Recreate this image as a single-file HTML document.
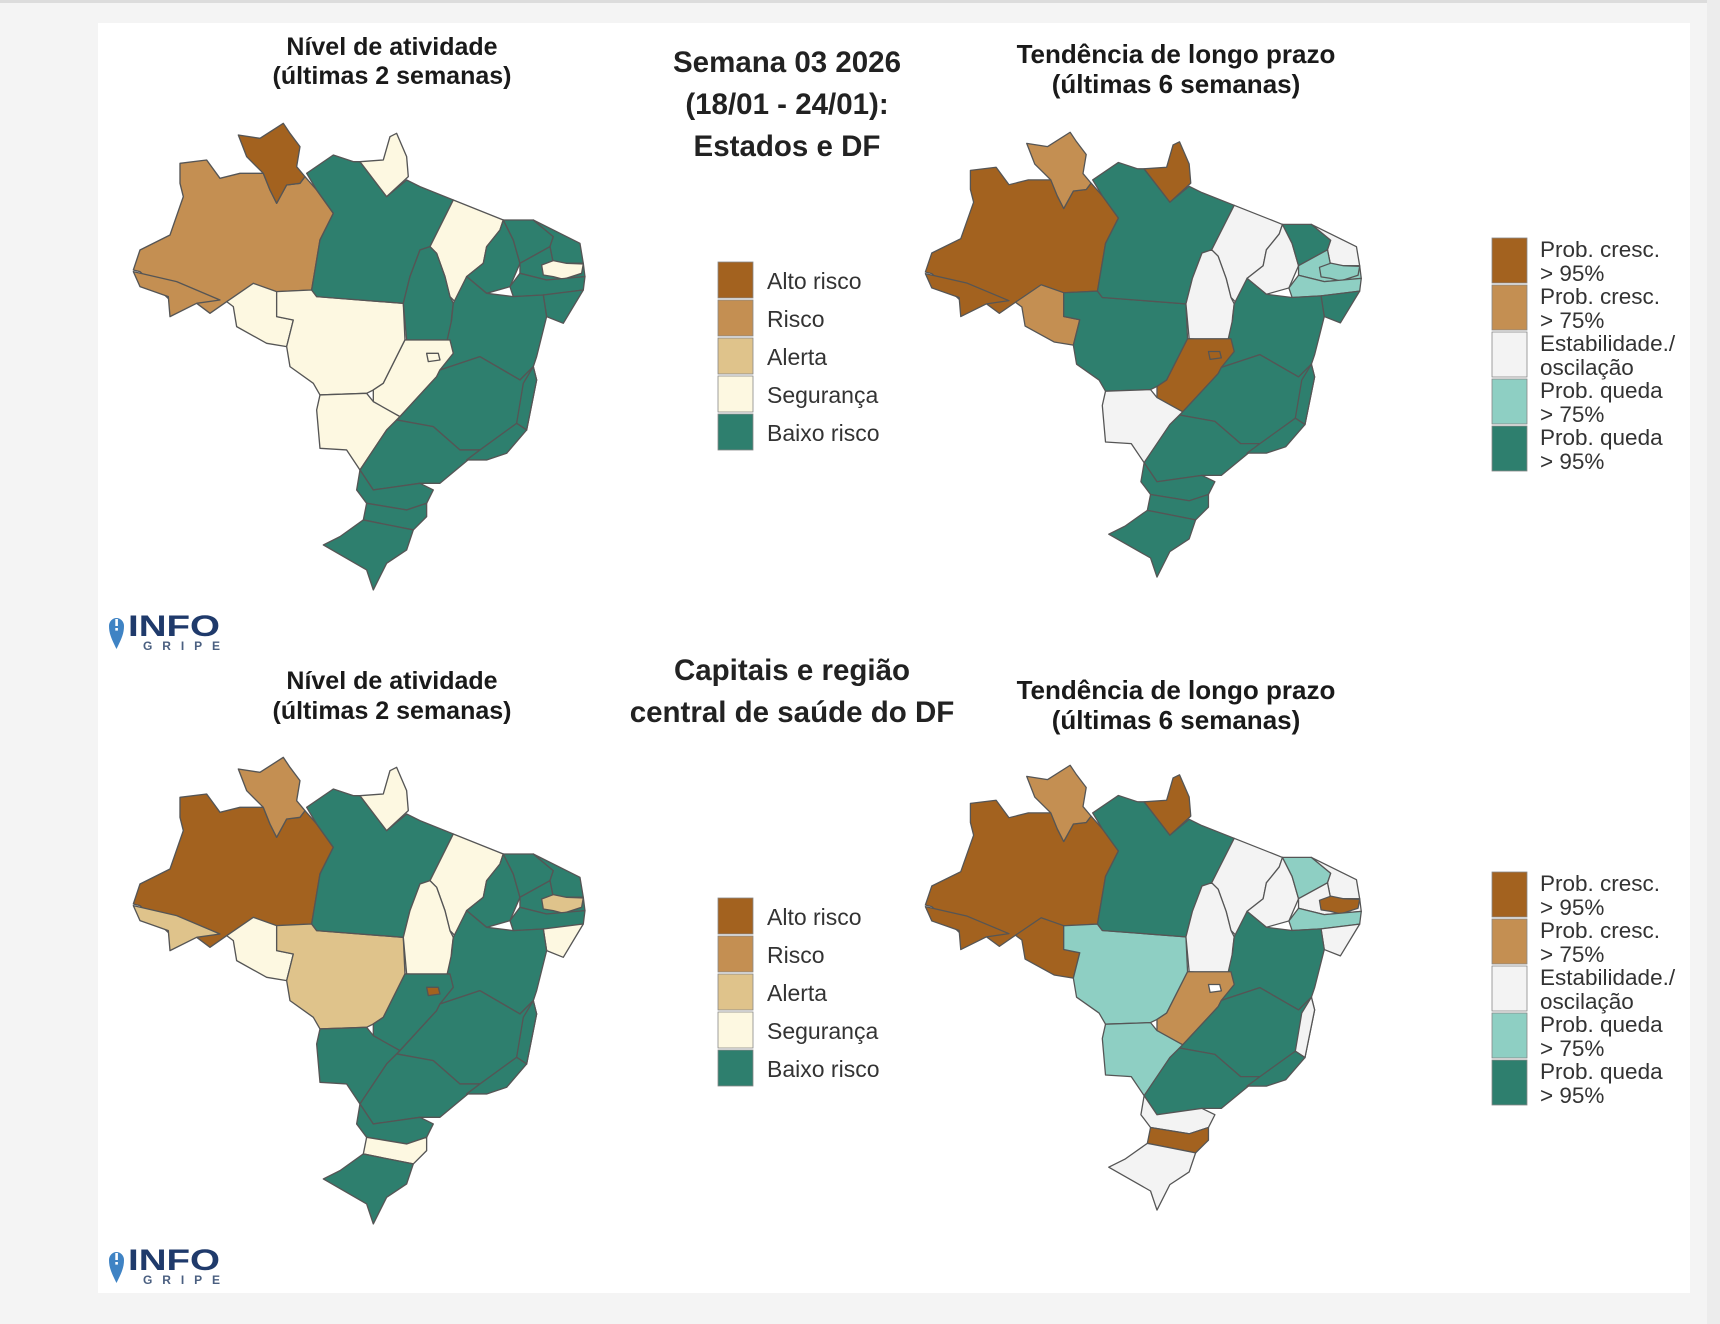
<!DOCTYPE html>
<html><head><meta charset="utf-8"><style>
html,body{margin:0;padding:0;background:#f4f4f4;}
svg{display:block}
text{font-family:"Liberation Sans",sans-serif;}
</style></head><body>
<svg width="1720" height="1324" viewBox="0 0 1720 1324" xmlns="http://www.w3.org/2000/svg">
<defs>
<g id="RR"><polygon points="355,135 420,145 490,100 510,130 540,170 530,230 555,260 540,280 500,285 470,340 450,300 430,250 380,200"/></g>
<g id="AM"><polygon points="180,220 260,210 300,265 360,250 430,250 450,300 470,340 500,285 540,280 555,260 590,300 640,370 600,450 575,600 470,605 320,635 270,670 230,640 160,640 60,545 40,540 60,480 150,435 190,320 180,280"/></g>
<g id="AC"><polygon points="40,545 170,575 300,630 230,640 150,680 145,620 60,590"/></g>
<g id="RO"><polygon points="320,635 400,580 470,605 470,680 520,690 500,770 440,760 350,710 340,650"/></g>
<g id="MT"><polygon points="470,605 575,600 590,620 850,640 855,750 790,880 760,900 740,910 600,915 580,880 510,830 500,770 520,690 470,680"/></g>
<g id="PA"><polygon points="560,250 640,195 700,215 720,215 800,320 860,270 900,290 1000,330 975,380 930,470 900,480 870,560 850,640 590,620 575,600 600,450 640,370 590,300"/></g>
<g id="AP"><polygon points="720,215 790,210 810,140 830,130 860,200 865,260 800,320"/></g>
<g id="MA"><polygon points="1000,330 1150,390 1140,420 1100,470 1090,520 1040,560 1010,640 990,620 975,560 950,490 930,470 975,380"/></g>
<g id="TO"><polygon points="930,470 950,490 975,560 990,620 1000,640 995,680 990,750 940,755 860,750 850,640 870,560 900,480"/></g>
<g id="PI"><polygon points="1150,390 1180,450 1200,520 1170,590 1100,610 1040,560 1090,520 1100,470 1140,420"/></g>
<g id="CE"><polygon points="1150,390 1240,390 1300,440 1290,470 1200,520 1180,450"/></g>
<g id="RN"><polygon points="1240,390 1380,460 1390,520 1300,520 1290,470 1300,440"/></g>
<g id="PB"><polygon points="1200,520 1290,470 1300,520 1390,520 1395,560 1280,570 1200,550"/></g>
<g id="PBp"><polygon points="1265,525 1300,512 1340,520 1390,522 1385,550 1330,568 1300,560 1270,555"/></g>
<g id="PE"><polygon points="1170,590 1200,550 1280,570 1395,560 1390,600 1270,615 1180,620"/></g>
<g id="AL"><polygon points="1270,615 1390,600 1330,700 1280,680"/></g>
<g id="BA"><polygon points="1040,560 1100,610 1180,620 1270,615 1280,680 1250,800 1240,830 1200,870 1080,800 960,840 975,780 995,690 1000,640"/></g>
<g id="GO"><polygon points="855,750 990,750 1000,790 960,840 950,860 840,980 760,940 760,900 790,880"/></g>
<g id="DF"><polygon points="920,790 955,790 960,810 925,815"/></g>
<g id="MS"><polygon points="600,915 740,910 760,935 840,980 800,1020 720,1140 680,1080 600,1075 590,960"/></g>
<g id="MG"><polygon points="960,840 1080,800 1200,870 1240,830 1250,870 1220,1020 1100,1080 1020,1080 940,1010 830,990 840,980 950,860"/></g>
<g id="ES"><polygon points="1240,830 1250,870 1220,1020 1190,1000 1210,880"/></g>
<g id="SP"><polygon points="830,990 940,1010 1020,1080 1080,1080 960,1180 900,1180 760,1200 720,1140 800,1020"/></g>
<g id="RJ"><polygon points="1080,1080 1190,1000 1220,1020 1160,1090 1100,1110 1040,1110"/></g>
<g id="PR"><polygon points="720,1140 760,1200 900,1180 940,1200 920,1240 860,1260 740,1240 710,1200"/></g>
<g id="SC"><polygon points="740,1240 860,1260 920,1240 920,1280 880,1320 780,1300 730,1290"/></g>
<g id="RS"><polygon points="730,1290 780,1300 880,1320 860,1380 800,1420 760,1500 740,1440 610,1365 660,1340"/></g>
</defs>

<rect x="0" y="0" width="1720" height="1324" fill="#f4f4f4"/>
<rect x="0" y="0" width="1720" height="3" fill="#dcdcdc"/>
<rect x="1707" y="0" width="13" height="1324" fill="#ececec"/>
<rect x="98" y="23" width="1592" height="1270" fill="#ffffff"/>

<!-- Titles -->
<g font-weight="bold" fill="#1a1a1a" font-size="25" text-anchor="middle">
<text x="392" y="55">Nível de atividade</text>
<text x="392" y="84">(últimas 2 semanas)</text>
<text x="392" y="689">Nível de atividade</text>
<text x="392" y="719">(últimas 2 semanas)</text>
</g>
<g font-weight="bold" fill="#1a1a1a" font-size="26" text-anchor="middle">
<text x="1176" y="63">Tendência de longo prazo</text>
<text x="1176" y="93">(últimas 6 semanas)</text>
<text x="1176" y="699">Tendência de longo prazo</text>
<text x="1176" y="729">(últimas 6 semanas)</text>
</g>
<g font-weight="bold" fill="#222" font-size="29.5" text-anchor="middle">
<text x="787" y="72">Semana 03 2026</text>
<text x="787" y="114">(18/01 - 24/01):</text>
<text x="787" y="156">Estados e DF</text>
<text x="792" y="680">Capitais e região</text>
<text x="792" y="722">central de saúde do DF</text>
</g>

<!-- Map TL -->
<g transform="translate(120,90) scale(0.3333)" stroke="#555" stroke-width="4" stroke-linejoin="round">
<use href="#AM" fill="#c48f52"/><use href="#AC" fill="#c48f52"/><use href="#RR" fill="#a3621f"/>
<use href="#RO" fill="#fdf8e1"/><use href="#MT" fill="#fdf8e1"/><use href="#PA" fill="#2e7f6e"/>
<use href="#AP" fill="#fdf8e1"/><use href="#MA" fill="#fdf8e1"/><use href="#TO" fill="#2e7f6e"/>
<use href="#PI" fill="#2e7f6e"/><use href="#CE" fill="#2e7f6e"/><use href="#RN" fill="#2e7f6e"/>
<use href="#PB" fill="#2e7f6e"/><use href="#PBp" fill="#fdf8e1"/><use href="#PE" fill="#2e7f6e"/>
<use href="#AL" fill="#2e7f6e"/><use href="#BA" fill="#2e7f6e"/><use href="#GO" fill="#fdf8e1"/>
<use href="#DF" fill="#fdf8e1"/><use href="#MS" fill="#fdf8e1"/><use href="#MG" fill="#2e7f6e"/>
<use href="#ES" fill="#2e7f6e"/><use href="#SP" fill="#2e7f6e"/><use href="#RJ" fill="#2e7f6e"/>
<use href="#PR" fill="#2e7f6e"/><use href="#SC" fill="#2e7f6e"/><use href="#RS" fill="#2e7f6e"/>
</g>

<!-- Map BL -->
<g transform="translate(120,724) scale(0.3333)" stroke="#555" stroke-width="4" stroke-linejoin="round">
<use href="#AM" fill="#a3621f"/><use href="#AC" fill="#dfc38b"/><use href="#RR" fill="#c48f52"/>
<use href="#RO" fill="#fdf8e1"/><use href="#MT" fill="#dfc38b"/><use href="#PA" fill="#2e7f6e"/>
<use href="#AP" fill="#fdf8e1"/><use href="#MA" fill="#fdf8e1"/><use href="#TO" fill="#fdf8e1"/>
<use href="#PI" fill="#2e7f6e"/><use href="#CE" fill="#2e7f6e"/><use href="#RN" fill="#2e7f6e"/>
<use href="#PB" fill="#2e7f6e"/><use href="#PBp" fill="#dfc38b"/><use href="#PE" fill="#2e7f6e"/>
<use href="#AL" fill="#fdf8e1"/><use href="#BA" fill="#2e7f6e"/><use href="#GO" fill="#2e7f6e"/>
<use href="#DF" fill="#a3621f"/><use href="#MS" fill="#2e7f6e"/><use href="#MG" fill="#2e7f6e"/>
<use href="#ES" fill="#2e7f6e"/><use href="#SP" fill="#2e7f6e"/><use href="#RJ" fill="#2e7f6e"/>
<use href="#PR" fill="#2e7f6e"/><use href="#SC" fill="#fdf8e1"/><use href="#RS" fill="#2e7f6e"/>
</g>

<!-- Map TR -->
<g transform="translate(912.5,100.5) scale(0.3217,0.3177)" stroke="#555" stroke-width="4" stroke-linejoin="round">
<use href="#AM" fill="#a3621f"/><use href="#AC" fill="#a3621f"/><use href="#RR" fill="#c48f52"/>
<use href="#RO" fill="#c48f52"/><use href="#MT" fill="#2e7f6e"/><use href="#PA" fill="#2e7f6e"/>
<use href="#AP" fill="#a3621f"/><use href="#MA" fill="#f3f3f3"/><use href="#TO" fill="#f3f3f3"/>
<use href="#PI" fill="#f3f3f3"/><use href="#CE" fill="#2e7f6e"/><use href="#RN" fill="#f3f3f3"/>
<use href="#PB" fill="#8ecfc3"/><use href="#PBp" fill="#8ecfc3"/><use href="#PE" fill="#8ecfc3"/>
<use href="#AL" fill="#2e7f6e"/><use href="#BA" fill="#2e7f6e"/><use href="#GO" fill="#a3621f"/>
<use href="#DF" fill="#a3621f"/><use href="#MS" fill="#f3f3f3"/><use href="#MG" fill="#2e7f6e"/>
<use href="#ES" fill="#2e7f6e"/><use href="#SP" fill="#2e7f6e"/><use href="#RJ" fill="#2e7f6e"/>
<use href="#PR" fill="#2e7f6e"/><use href="#SC" fill="#2e7f6e"/><use href="#RS" fill="#2e7f6e"/>
</g>

<!-- Map BR -->
<g transform="translate(912.5,733.5) scale(0.3217,0.3177)" stroke="#555" stroke-width="4" stroke-linejoin="round">
<use href="#AM" fill="#a3621f"/><use href="#AC" fill="#a3621f"/><use href="#RR" fill="#c48f52"/>
<use href="#RO" fill="#a3621f"/><use href="#MT" fill="#8ecfc3"/><use href="#PA" fill="#2e7f6e"/>
<use href="#AP" fill="#a3621f"/><use href="#MA" fill="#f3f3f3"/><use href="#TO" fill="#f3f3f3"/>
<use href="#PI" fill="#f3f3f3"/><use href="#CE" fill="#8ecfc3"/><use href="#RN" fill="#f3f3f3"/>
<use href="#PB" fill="#f3f3f3"/><use href="#PBp" fill="#a3621f"/><use href="#PE" fill="#8ecfc3"/>
<use href="#AL" fill="#f3f3f3"/><use href="#BA" fill="#2e7f6e"/><use href="#GO" fill="#c48f52"/>
<use href="#DF" fill="#ffffff"/><use href="#MS" fill="#8ecfc3"/><use href="#MG" fill="#2e7f6e"/>
<use href="#ES" fill="#f3f3f3"/><use href="#SP" fill="#2e7f6e"/><use href="#RJ" fill="#2e7f6e"/>
<use href="#PR" fill="#f3f3f3"/><use href="#SC" fill="#a3621f"/><use href="#RS" fill="#f3f3f3"/>
</g>

<!-- Legend left (top & bottom) -->
<g id="legL" font-size="23" fill="#333">
<rect x="718" y="262" width="35" height="36" fill="#a3621f" stroke="#888" stroke-width="0.8"/>
<rect x="718" y="300" width="35" height="36" fill="#c48f52" stroke="#888" stroke-width="0.8"/>
<rect x="718" y="338" width="35" height="36" fill="#dfc38b" stroke="#888" stroke-width="0.8"/>
<rect x="718" y="376" width="35" height="36" fill="#fdf8e1" stroke="#888" stroke-width="0.8"/>
<rect x="718" y="414" width="35" height="36" fill="#2e7f6e" stroke="#888" stroke-width="0.8"/>
<text x="767" y="289">Alto risco</text>
<text x="767" y="327">Risco</text>
<text x="767" y="365">Alerta</text>
<text x="767" y="403">Segurança</text>
<text x="767" y="441">Baixo risco</text>
</g>
<use href="#legL" transform="translate(0,636)"/>

<!-- Legend right -->
<g id="legR" font-size="22.5" fill="#333">
<rect x="1492" y="238" width="35" height="45" fill="#a3621f" stroke="#888" stroke-width="0.8"/>
<rect x="1492" y="285" width="35" height="45" fill="#c48f52" stroke="#888" stroke-width="0.8"/>
<rect x="1492" y="332" width="35" height="45" fill="#f3f3f3" stroke="#888" stroke-width="0.8"/>
<rect x="1492" y="379" width="35" height="45" fill="#8ecfc3" stroke="#888" stroke-width="0.8"/>
<rect x="1492" y="426" width="35" height="45" fill="#2e7f6e" stroke="#888" stroke-width="0.8"/>
<text x="1540" y="257">Prob. cresc.</text><text x="1540" y="281">&gt; 95%</text>
<text x="1540" y="304">Prob. cresc.</text><text x="1540" y="328">&gt; 75%</text>
<text x="1540" y="351">Estabilidade./</text><text x="1540" y="375">oscilação</text>
<text x="1540" y="398">Prob. queda</text><text x="1540" y="422">&gt; 75%</text>
<text x="1540" y="445">Prob. queda</text><text x="1540" y="469">&gt; 95%</text>
</g>
<use href="#legR" transform="translate(0,634)"/>

<!-- Logos -->
<g id="logo">
<path d="M116.5,649 C111,638 109,633 109,626 A7.5,8 0 0 1 124,626 C124,633 122,638 116.5,649 Z" fill="#3f83c4"/>
<rect x="115.3" y="619" width="2.6" height="7" fill="#fff"/>
<rect x="115.3" y="628" width="2.6" height="2.6" fill="#fff"/>
<text x="128" y="636" font-size="30" font-weight="bold" fill="#1f3a6b" textLength="92" lengthAdjust="spacingAndGlyphs">INFO</text>
<text x="143" y="650" font-size="12" font-weight="bold" fill="#4a5f80" textLength="77" lengthAdjust="spacing">GRIPE</text>
</g>
<use href="#logo" transform="translate(0,634)"/>
</svg>
</body></html>
